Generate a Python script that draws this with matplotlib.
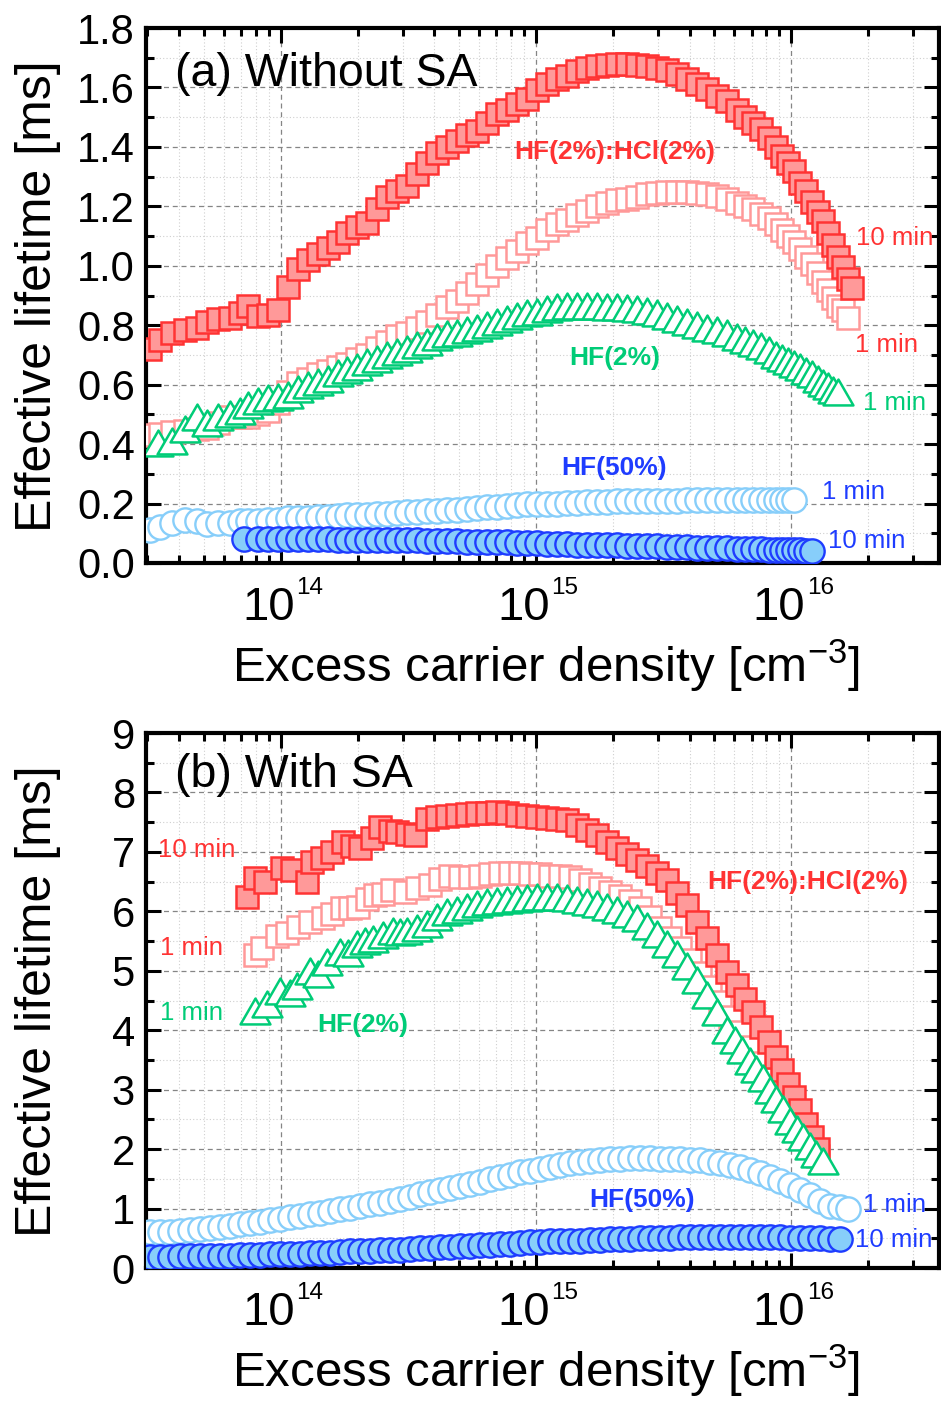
import numpy as np
import matplotlib
matplotlib.use('Agg')
import matplotlib.pyplot as plt
from matplotlib.path import Path
from matplotlib.markers import MarkerStyle
from matplotlib.ticker import MultipleLocator, LogLocator, NullFormatter, FormatStrFormatter
from matplotlib.transforms import blended_transform_factory, offset_copy

plt.rcParams['font.family'] = ['Liberation Sans', 'DejaVu Sans']
plt.rcParams['mathtext.fontset'] = 'custom'
plt.rcParams['mathtext.rm'] = 'Liberation Sans'
plt.rcParams['mathtext.it'] = 'Liberation Sans:italic'
plt.rcParams['mathtext.bf'] = 'Liberation Sans:bold'

# ---------------- data: log10(excess carrier density / cm^-3) and lifetime [ms]
# Panel (a) without SA
a_hcl10_logn = [13.486, 13.525, 13.573, 13.624, 13.671, 13.710, 13.753, 13.800, 13.839, 13.871,
                13.910, 13.949, 13.988, 14.027, 14.067, 14.106, 14.145, 14.184, 14.224, 14.259,
                14.298, 14.337, 14.376, 14.416, 14.455, 14.494, 14.533, 14.573, 14.612, 14.651,
                14.690, 14.729, 14.769, 14.808, 14.847, 14.886, 14.925, 14.965, 15.004, 15.043,
                15.082, 15.122, 15.161, 15.200, 15.239, 15.278, 15.318, 15.357, 15.396, 15.435,
                15.475, 15.514, 15.553, 15.592, 15.631, 15.671, 15.710, 15.749, 15.788, 15.820,
                15.851, 15.882, 15.914, 15.941, 15.965, 15.988, 16.012, 16.035, 16.059, 16.082,
                16.106, 16.125, 16.145, 16.165, 16.184, 16.204, 16.224, 16.239]
a_hcl10_tau = [0.72, 0.75, 0.775, 0.785, 0.79, 0.81, 0.82, 0.825, 0.84, 0.865,
               0.83, 0.835, 0.85, 0.93, 0.99, 1.02, 1.04, 1.06, 1.08, 1.11,
               1.13, 1.145, 1.19, 1.23, 1.25, 1.27, 1.31, 1.345, 1.38, 1.40,
               1.42, 1.44, 1.455, 1.48, 1.51, 1.525, 1.545, 1.56, 1.59, 1.61,
               1.63, 1.64, 1.655, 1.665, 1.672, 1.675, 1.678, 1.678, 1.676, 1.672,
               1.665, 1.66, 1.645, 1.63, 1.61, 1.595, 1.57, 1.555, 1.525, 1.50,
               1.48, 1.46, 1.43, 1.40, 1.37, 1.345, 1.32, 1.28, 1.25, 1.215,
               1.18, 1.15, 1.11, 1.07, 1.03, 0.995, 0.955, 0.925]

a_hcl1_logn = [13.486, 13.525, 13.573, 13.624, 13.671, 13.710, 13.753, 13.800, 13.839, 13.871,
               13.910, 13.949, 13.988, 14.027, 14.067, 14.106, 14.145, 14.184, 14.224, 14.259,
               14.298, 14.337, 14.376, 14.416, 14.455, 14.494, 14.533, 14.573, 14.612, 14.651,
               14.690, 14.729, 14.769, 14.808, 14.847, 14.886, 14.925, 14.965, 15.004, 15.043,
               15.082, 15.122, 15.161, 15.200, 15.239, 15.278, 15.318, 15.357, 15.396, 15.435,
               15.475, 15.514, 15.553, 15.592, 15.631, 15.671, 15.710, 15.749, 15.788, 15.820,
               15.851, 15.882, 15.914, 15.941, 15.965, 15.988, 16.012, 16.035, 16.059, 16.082,
               16.106, 16.125, 16.145, 16.165, 16.184, 16.204, 16.224]
a_hcl1_tau = [0.43, 0.435, 0.44, 0.445, 0.45, 0.455, 0.47, 0.49, 0.49, 0.49,
              0.50, 0.51, 0.54, 0.575, 0.605, 0.62, 0.635, 0.645, 0.66, 0.67,
              0.685, 0.70, 0.725, 0.745, 0.765, 0.775, 0.79, 0.81, 0.835, 0.86,
              0.88, 0.91, 0.94, 0.97, 1.00, 1.025, 1.05, 1.075, 1.095, 1.12,
              1.14, 1.155, 1.17, 1.185, 1.20, 1.21, 1.22, 1.225, 1.23, 1.24,
              1.245, 1.248, 1.248, 1.248, 1.245, 1.24, 1.235, 1.225, 1.21, 1.20,
              1.19, 1.175, 1.16, 1.14, 1.12, 1.10, 1.08, 1.055, 1.03, 1.005,
              0.975, 0.945, 0.92, 0.89, 0.865, 0.85, 0.825]

a_hf2_logn = [13.518, 13.573, 13.624, 13.671, 13.710, 13.753, 13.800, 13.839, 13.871,
              13.910, 13.949, 13.988, 14.027, 14.067, 14.106, 14.145, 14.184, 14.224, 14.259,
              14.298, 14.337, 14.376, 14.416, 14.455, 14.494, 14.533, 14.573, 14.612, 14.651,
              14.690, 14.729, 14.769, 14.808, 14.847, 14.886, 14.925, 14.965, 15.004, 15.043,
              15.082, 15.122, 15.161, 15.200, 15.239, 15.278, 15.318, 15.357, 15.396, 15.435,
              15.475, 15.514, 15.553, 15.592, 15.631, 15.671, 15.710, 15.749, 15.788, 15.820,
              15.851, 15.882, 15.914, 15.941, 15.965, 15.988, 16.012, 16.035, 16.059, 16.082,
              16.106, 16.125, 16.145, 16.165, 16.184]
a_hf2_tau = [0.405, 0.41, 0.45, 0.49, 0.47, 0.49, 0.50, 0.51, 0.53,
             0.545, 0.555, 0.56, 0.565, 0.585, 0.60, 0.61, 0.62, 0.64, 0.65,
             0.66, 0.675, 0.685, 0.70, 0.71, 0.72, 0.735, 0.745, 0.76, 0.77,
             0.775, 0.785, 0.79, 0.80, 0.81, 0.82, 0.83, 0.84, 0.845, 0.855,
             0.86, 0.865, 0.865, 0.865, 0.865, 0.862, 0.86, 0.858, 0.853, 0.848,
             0.84, 0.83, 0.82, 0.81, 0.80, 0.79, 0.785, 0.775, 0.76, 0.75,
             0.74, 0.73, 0.715, 0.70, 0.69, 0.68, 0.67, 0.66, 0.645, 0.635,
             0.62, 0.605, 0.595, 0.583, 0.575]

a_hf50_1_logn = [13.486, 13.525, 13.573, 13.624, 13.671, 13.710, 13.753, 13.800, 13.839, 13.871,
                 13.910, 13.949, 13.988, 14.027, 14.067, 14.106, 14.145, 14.184, 14.224, 14.259,
                 14.298, 14.337, 14.376, 14.416, 14.455, 14.494, 14.533, 14.573, 14.612, 14.651,
                 14.690, 14.729, 14.769, 14.808, 14.847, 14.886, 14.925, 14.965, 15.004, 15.043,
                 15.082, 15.122, 15.161, 15.200, 15.239, 15.278, 15.318, 15.357, 15.396, 15.435,
                 15.475, 15.514, 15.553, 15.592, 15.631, 15.671, 15.710, 15.749, 15.788, 15.820,
                 15.851, 15.882, 15.914, 15.941, 15.965, 15.988, 16.012]
a_hf50_1_tau = [0.11, 0.12, 0.135, 0.145, 0.14, 0.13, 0.135, 0.135, 0.14, 0.14,
                0.14, 0.145, 0.145, 0.15, 0.15, 0.152, 0.155, 0.155, 0.157, 0.16,
                0.16, 0.162, 0.165, 0.165, 0.168, 0.17, 0.172, 0.175, 0.175, 0.178,
                0.18, 0.182, 0.185, 0.187, 0.19, 0.192, 0.195, 0.197, 0.198, 0.2,
                0.2, 0.202, 0.203, 0.204, 0.205, 0.206, 0.207, 0.208, 0.208, 0.209,
                0.21, 0.21, 0.21, 0.211, 0.211, 0.212, 0.212, 0.212, 0.212, 0.212,
                0.212, 0.212, 0.213, 0.213, 0.213, 0.213, 0.213]

a_hf50_10_logn = [13.855,
                  13.910, 13.949, 13.988, 14.027, 14.067, 14.106, 14.145, 14.184, 14.224, 14.259,
                  14.298, 14.337, 14.376, 14.416, 14.455, 14.494, 14.533, 14.573, 14.612, 14.651,
                  14.690, 14.729, 14.769, 14.808, 14.847, 14.886, 14.925, 14.965, 15.004, 15.043,
                  15.082, 15.122, 15.161, 15.200, 15.239, 15.278, 15.318, 15.357, 15.396, 15.435,
                  15.475, 15.514, 15.553, 15.592, 15.631, 15.671, 15.710, 15.749, 15.788, 15.820,
                  15.851, 15.882, 15.914, 15.941, 15.965, 15.988, 16.012, 16.035, 16.059, 16.082]
a_hf50_10_tau = [0.082,
                 0.082, 0.082, 0.081, 0.081, 0.081, 0.080, 0.080, 0.080, 0.079, 0.079,
                 0.078, 0.078, 0.078, 0.077, 0.077, 0.076, 0.076, 0.075, 0.075, 0.074,
                 0.073, 0.072, 0.072, 0.071, 0.070, 0.069, 0.068, 0.067, 0.066, 0.065,
                 0.064, 0.063, 0.062, 0.061, 0.060, 0.060, 0.059, 0.058, 0.057, 0.057,
                 0.056, 0.055, 0.054, 0.053, 0.052, 0.051, 0.050, 0.049, 0.048, 0.048,
                 0.047, 0.046, 0.045, 0.045, 0.044, 0.044, 0.043, 0.043, 0.042, 0.042]

# Panel (b) with SA
b_hcl10_logn = [13.867, 13.898, 13.937, 14.004, 14.043, 14.102, 14.122, 14.161, 14.200, 14.243,
                14.278, 14.310, 14.357, 14.388, 14.427, 14.455, 14.494, 14.525, 14.573, 14.612,
                14.651, 14.690, 14.729, 14.769, 14.808, 14.847, 14.886, 14.925, 14.965, 15.004,
                15.043, 15.082, 15.122, 15.161, 15.200, 15.239, 15.278, 15.318, 15.357, 15.396,
                15.435, 15.475, 15.514, 15.553, 15.592, 15.631, 15.671, 15.710, 15.749, 15.788,
                15.820, 15.851, 15.882, 15.914, 15.941, 15.965, 15.988, 16.012, 16.035, 16.059,
                16.082, 16.106]
b_hcl10_tau = [6.24, 6.56, 6.50, 6.73, 6.70, 6.50, 6.83, 6.90, 7.00, 7.17,
               7.10, 7.07, 7.23, 7.42, 7.35, 7.33, 7.30, 7.28, 7.55, 7.58,
               7.60, 7.62, 7.64, 7.65, 7.66, 7.67, 7.65, 7.62, 7.60, 7.58,
               7.57, 7.55, 7.54, 7.45, 7.36, 7.28, 7.16, 7.06, 6.96, 6.86,
               6.76, 6.65, 6.53, 6.31, 6.11, 5.82, 5.55, 5.27, 4.98, 4.76,
               4.52, 4.30, 4.05, 3.80, 3.55, 3.33, 3.10, 2.88, 2.65, 2.42,
               2.20, 2.00]

b_hcl1_logn = [13.898, 13.925, 13.984, 14.024, 14.067, 14.114, 14.165, 14.200, 14.239, 14.271,
               14.302, 14.337, 14.369, 14.400, 14.435, 14.486, 14.533, 14.584, 14.624, 14.663,
               14.702, 14.741, 14.780, 14.820, 14.859, 14.898, 14.937, 14.976, 15.016, 15.055,
               15.094, 15.133, 15.173, 15.212, 15.251, 15.290, 15.329, 15.369, 15.408, 15.447,
               15.486, 15.525, 15.565, 15.604, 15.643, 15.682, 15.722, 15.761, 15.800, 15.839,
               15.878, 15.918, 15.957, 15.996, 16.035, 16.075, 16.106]
b_hcl1_tau = [5.27, 5.38, 5.59, 5.64, 5.74, 5.82, 5.89, 5.95, 6.06, 6.05,
              6.07, 6.20, 6.27, 6.30, 6.36, 6.33, 6.40, 6.44, 6.55, 6.60,
              6.58, 6.58, 6.60, 6.63, 6.65, 6.65, 6.64, 6.63, 6.62, 6.60,
              6.59, 6.57, 6.52, 6.46, 6.40, 6.33, 6.26, 6.18, 6.05, 5.90,
              5.72, 5.55, 5.38, 5.18, 4.96, 4.72, 4.48, 4.22, 3.97, 3.72,
              3.45, 3.18, 2.92, 2.65, 2.40, 2.10, 1.88]

b_hf2_logn = [13.898, 13.945, 13.996, 14.035, 14.063, 14.114, 14.145, 14.180, 14.231, 14.263,
              14.298, 14.329, 14.361, 14.400, 14.439, 14.467, 14.494, 14.533, 14.573, 14.612,
              14.651, 14.690, 14.729, 14.769, 14.808, 14.847, 14.886, 14.925, 14.965, 15.004,
              15.043, 15.082, 15.122, 15.161, 15.200, 15.239, 15.278, 15.318, 15.357, 15.396,
              15.435, 15.475, 15.514, 15.553, 15.592, 15.631, 15.671, 15.710, 15.749, 15.780,
              15.808, 15.839, 15.863, 15.890, 15.918, 15.941, 15.969, 15.996, 16.024, 16.047,
              16.075, 16.098, 16.125]
b_hf2_tau = [4.32, 4.44, 4.66, 4.62, 4.74, 5.00, 4.95, 5.15, 5.32, 5.30,
             5.45, 5.50, 5.54, 5.60, 5.67, 5.66, 5.67, 5.72, 5.79, 5.90,
             5.99, 6.03, 6.07, 6.12, 6.16, 6.17, 6.19, 6.21, 6.23, 6.24,
             6.24, 6.24, 6.22, 6.19, 6.16, 6.12, 6.08, 6.03, 5.96, 5.88,
             5.75, 5.62, 5.45, 5.28, 5.08, 4.85, 4.60, 4.30, 4.00, 3.83,
             3.67, 3.48, 3.35, 3.20, 3.00, 2.85, 2.67, 2.47, 2.33, 2.20,
             2.05, 1.92, 1.80]

b_circ_logn = [13.486, 13.525, 13.565, 13.604, 13.643, 13.682, 13.722, 13.761, 13.800, 13.839,
               13.878, 13.918, 13.957, 13.996, 14.035, 14.075, 14.114, 14.153, 14.192, 14.231,
               14.271, 14.310, 14.349, 14.388, 14.427, 14.467, 14.506, 14.545, 14.584, 14.624,
               14.663, 14.702, 14.741, 14.780, 14.820, 14.859, 14.898, 14.937, 14.976, 15.016,
               15.055, 15.094, 15.133, 15.173, 15.212, 15.251, 15.290, 15.329, 15.369, 15.408,
               15.447, 15.486, 15.525, 15.565, 15.604, 15.643, 15.682, 15.722, 15.761, 15.800,
               15.839, 15.878, 15.918, 15.957, 15.996, 16.035, 16.075, 16.114, 16.153, 16.192]
b_hf50_1_logn = b_circ_logn + [16.224]
b_hf50_1_tau = [0.60, 0.60, 0.61, 0.63, 0.64, 0.66, 0.67, 0.69, 0.71, 0.74,
                0.76, 0.78, 0.80, 0.82, 0.85, 0.88, 0.91, 0.93, 0.96, 0.99,
                1.01, 1.04, 1.07, 1.10, 1.13, 1.16, 1.20, 1.24, 1.28, 1.32,
                1.35, 1.38, 1.41, 1.45, 1.49, 1.53, 1.57, 1.61, 1.64, 1.67,
                1.70, 1.73, 1.76, 1.78, 1.80, 1.82, 1.83, 1.84, 1.85, 1.85,
                1.85, 1.84, 1.83, 1.83, 1.82, 1.81, 1.79, 1.77, 1.74, 1.70,
                1.65, 1.59, 1.53, 1.46, 1.39, 1.31, 1.23, 1.13, 1.05, 1.02,
                1.00]
b_hf50_10_logn = b_circ_logn
b_hf50_10_tau = [0.19, 0.19, 0.19, 0.20, 0.20, 0.20, 0.21, 0.21, 0.21, 0.22,
                 0.22, 0.22, 0.23, 0.23, 0.24, 0.24, 0.25, 0.26, 0.26, 0.27,
                 0.28, 0.28, 0.29, 0.30, 0.30, 0.31, 0.32, 0.33, 0.34, 0.35,
                 0.36, 0.37, 0.37, 0.38, 0.39, 0.40, 0.41, 0.42, 0.43, 0.44,
                 0.45, 0.45, 0.46, 0.46, 0.47, 0.47, 0.48, 0.49, 0.49, 0.50,
                 0.50, 0.51, 0.51, 0.52, 0.52, 0.52, 0.52, 0.52, 0.52, 0.52,
                 0.52, 0.52, 0.52, 0.52, 0.51, 0.51, 0.50, 0.50, 0.49, 0.48]

x_decades = [14, 15, 16]

# ---------------- styles
RED = '#FF3333'
PINK = '#FF9999'
GREEN = '#00CC77'
LBLUE = '#87CEFA'
DBLUE = '#1E3CFF'

tri_path = Path([(0, 0.5), (-0.577, -0.5), (0.577, -0.5), (0, 0.5)],
                [Path.MOVETO, Path.LINETO, Path.LINETO, Path.CLOSEPOLY])
TRI = MarkerStyle(tri_path, joinstyle='miter')

fig = plt.figure(figsize=(9.41, 14.01), dpi=100)
W, H = 941.0, 1401.0
ax_a = fig.add_axes([146 / W, 1 - 563 / H, (939 - 146) / W, (563 - 28) / H])
ax_b = fig.add_axes([146 / W, 1 - 1268 / H, (939 - 146) / W, (1268 - 733) / H])


def draw_series(ax, d):
    hcl1, hcl10, hf2, hf50_1, hf50_10 = d
    ax.plot(10 ** np.array(hcl1[0]), hcl1[1], ls='none', marker='s', ms=16,
            mfc='white', mec=PINK, mew=1.8, zorder=3)
    ax.plot(10 ** np.array(hcl10[0]), hcl10[1], ls='none', marker='s', ms=16,
            mfc=PINK, mec=RED, mew=1.8, zorder=4)
    ax.plot(10 ** np.array(hf50_1[0]), hf50_1[1], ls='none', marker='o', ms=17.5,
            mfc='white', mec=LBLUE, mew=1.7, zorder=3)
    ax.plot(10 ** np.array(hf50_10[0]), hf50_10[1], ls='none', marker='o', ms=17.5,
            mfc=LBLUE, mec=DBLUE, mew=1.7, zorder=4)
    ax.plot(10 ** np.array(hf2[0]), hf2[1], ls='none', marker=TRI, ms=21.5,
            mfc='white', mec=GREEN, mew=1.8, zorder=5)


draw_series(ax_a, [(a_hcl1_logn, a_hcl1_tau), (a_hcl10_logn, a_hcl10_tau),
                   (a_hf2_logn, a_hf2_tau), (a_hf50_1_logn, a_hf50_1_tau),
                   (a_hf50_10_logn, a_hf50_10_tau)])
draw_series(ax_b, [(b_hcl1_logn, b_hcl1_tau), (b_hcl10_logn, b_hcl10_tau),
                   (b_hf2_logn, b_hf2_tau), (b_hf50_1_logn, b_hf50_1_tau),
                   (b_hf50_10_logn, b_hf50_10_tau)])

for ax, ymax, maj, mnr, fmt in [(ax_a, 1.8, 0.2, 0.1, '%.1f'), (ax_b, 9, 1, 0.5, '%d')]:
    ax.set_xscale('log')
    ax.set_xlim(2.96e13, 3.8e16)
    ax.set_ylim(0, ymax)
    ax.yaxis.set_major_locator(MultipleLocator(maj))
    ax.yaxis.set_minor_locator(MultipleLocator(mnr))
    ax.yaxis.set_major_formatter(FormatStrFormatter(fmt))
    ax.xaxis.set_major_locator(LogLocator(base=10, numticks=10))
    ax.xaxis.set_minor_locator(LogLocator(base=10, subs=np.arange(2, 10), numticks=20))
    ax.xaxis.set_major_formatter(NullFormatter())
    ax.xaxis.set_minor_formatter(NullFormatter())
    ax.set_axisbelow(True)
    ax.grid(which='major', ls=(0, (4, 3)), color='#858585', lw=0.9)
    ax.grid(which='minor', ls=(0, (1, 2)), color='#cfcfcf', lw=0.8)
    ax.tick_params(which='both', direction='in', top=True, right=True, width=2.2,
                   labelsize=30, color='black')
    ax.tick_params(which='major', length=11, pad=8)
    ax.tick_params(which='minor', length=5.5)
    for s in ax.spines.values():
        s.set_linewidth(3)
    # x tick labels: "10" with a small superscript exponent
    tr = blended_transform_factory(ax.transData, ax.transAxes)
    for k in x_decades:
        ax.text(10.0 ** k, 0, '10', transform=offset_copy(tr, fig=fig, x=10, y=-41, units='points'),
                fontsize=34, ha='right', va='baseline', clip_on=False)
        ax.text(10.0 ** k, 0, str(k), transform=offset_copy(tr, fig=fig, x=11.2, y=-22.3, units='points'),
                fontsize=17.5, ha='left', va='baseline', clip_on=False)
    ax.text(0.504, -0.2224, 'Excess carrier density [cm$^{-3}$]', transform=ax.transAxes,
            fontsize=35.5, ha='center', va='baseline')
    ax.text(-0.136, 0.498, 'Effective lifetime [ms]', transform=ax.transAxes,
            fontsize=36, rotation=90, ha='center', va='center')

ax_a.text(0.037, 0.914, '(a) Without SA', transform=ax_a.transAxes, fontsize=33.5,
          ha='left', va='center')
ax_b.text(0.037, 0.921, '(b) With SA', transform=ax_b.transAxes, fontsize=33.5,
          ha='left', va='center')

# annotations (position in log10 n, lifetime)
ann_a = [(15.31, 1.382, 'HF(2%):HCl(2%)', RED, 'bold', 19),
         (16.408, 1.095, '10 min', RED, 'normal', 18.5),
         (16.373, 0.735, '1 min', RED, 'normal', 18.5),
         (15.31, 0.691, 'HF(2%)', GREEN, 'bold', 19),
         (16.404, 0.539, '1 min', GREEN, 'normal', 18.5),
         (15.306, 0.32, 'HF(50%)', DBLUE, 'bold', 19),
         (16.243, 0.239, '1 min', DBLUE, 'normal', 18.5),
         (16.298, 0.074, '10 min', DBLUE, 'normal', 18.5)]
ann_b = [(13.671, 7.03, '10 min', RED, 'normal', 18.5),
         (13.651, 5.38, '1 min', RED, 'normal', 18.5),
         (13.651, 4.29, '1 min', GREEN, 'normal', 18.5),
         (14.322, 4.09, 'HF(2%)', GREEN, 'bold', 19),
         (16.067, 6.49, 'HF(2%):HCl(2%)', RED, 'bold', 19),
         (15.416, 1.14, 'HF(50%)', DBLUE, 'bold', 19),
         (16.404, 1.06, '1 min', DBLUE, 'normal', 18.5),
         (16.404, 0.47, '10 min', DBLUE, 'normal', 18.5)]
for ax, anns in [(ax_a, ann_a), (ax_b, ann_b)]:
    for lx, y, s, c, w, fs in anns:
        ax.text(10 ** lx, y, s, color=c, fontweight=w, fontsize=fs,
                ha='center', va='center', zorder=6)

fig.savefig('out.png', dpi=100)
